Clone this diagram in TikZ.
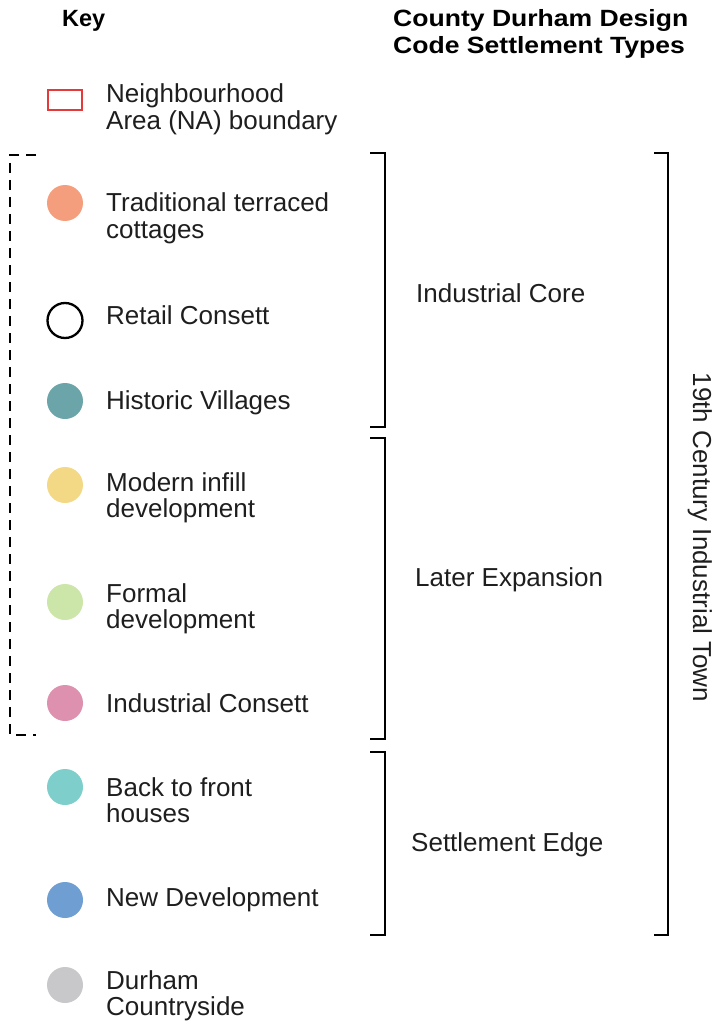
\documentclass[tikz,border=0pt]{standalone}
\usepackage{fontspec}
\setmainfont{Liberation Sans}
\newfontfamily\headfont{Liberation Sans}[FakeStretch=1.13,BoldFeatures={FakeStretch=1.13}]
\definecolor{inkgrey}{HTML}{1E1E1E}
\definecolor{naRed}{HTML}{E53A3A}
\definecolor{terraced}{HTML}{F59E7E}
\definecolor{villages}{HTML}{6BA5A9}
\definecolor{infill}{HTML}{F3D886}
\definecolor{formal}{HTML}{CCE5A8}
\definecolor{industrial}{HTML}{DE91AF}
\definecolor{backfront}{HTML}{7ECFCB}
\definecolor{newdev}{HTML}{6E9ED2}
\definecolor{countryside}{HTML}{C8C8CA}
\tikzset{
  keydot/.style={circle, minimum size=36pt, inner sep=0pt},
  keytext/.style={anchor=base west, inner sep=0pt, align=left, text=inkgrey,
    font=\fontsize{26}{26.5}\selectfont},
  bracketline/.style={line width=2.5pt},
}
\begin{document}
\begin{tikzpicture}[x=1pt, y=-1pt]
\useasboundingbox (0,0) rectangle (720,1024);
% headings (base = last line)
\node[keytext, font=\fontsize{23.5}{26.5}\selectfont\bfseries, text=black] (keyhead) at (62,27) {Key};
\node[keytext, font=\headfont\fontsize{23.5}{26.5}\selectfont\bfseries, text=black] (typehead) at (393,53.5)
  {County Durham Design\\Code Settlement Types};

% boundary
\draw[naRed, line width=2.5pt] (48,90) rectangle (82,110);
\node[keytext] (boundary) at (106,129.5) {Neighbourhood\\Area (NA) boundary};

% key entries
\node[keydot, fill=terraced] (dotA) at (65,203) {};
\node[keytext] (textA) at (106,238.5) {Traditional terraced\\cottages};
\node[keydot, draw=black, line width=2.3pt, minimum size=35pt] (dotB) at (65,320.5) {};
\node[keytext] (textB) at (106,324) {Retail Consett};
\node[keydot, fill=villages] (dotC) at (65,401) {};
\node[keytext] (textC) at (106,409) {Historic Villages};
\node[keydot, fill=infill] (dotD) at (65,485) {};
\node[keytext] (textD) at (106,517.5) {Modern infill\\development};
\node[keydot, fill=formal] (dotE) at (65,602) {};
\node[keytext] (textE) at (106,628.5) {Formal\\development};
\node[keydot, fill=industrial] (dotF) at (65,703) {};
\node[keytext] (textF) at (106,712) {Industrial Consett};
\node[keydot, fill=backfront] (dotG) at (65,787) {};
\node[keytext] (textG) at (106,822.5) {Back to front\\houses};
\node[keydot, fill=newdev] (dotH) at (65,900) {};
\node[keytext] (textH) at (106,906) {New Development};
\node[keydot, fill=countryside] (dotI) at (65,985) {};
\node[keytext] (textI) at (106,1015.5) {Durham\\Countryside};

% dashed group
\draw[line width=2.3pt, dash pattern=on 10pt off 7pt] (36,155) -- (10,155) -- (10,735) -- (36,735);

% settlement type brackets
\draw[bracketline] (370,153) -- (385,153) -- (385,427) -- (370,427);
\node[keytext] (core) at (416,302) {Industrial Core};
\draw[bracketline] (370,438) -- (385,438) -- (385,739) -- (370,739);
\node[keytext] (later) at (415,586) {Later Expansion};
\draw[bracketline] (370,752) -- (385,752) -- (385,935) -- (370,935);
\node[keytext] (edge) at (411,851) {Settlement Edge};
%
\draw[bracketline] (654,153) -- (668,153) -- (668,935) -- (654,935);
\node[keytext, anchor=base, rotate=-90] (town) at (693,537.5) {19th Century Industrial Town};
\end{tikzpicture}
\end{document}
